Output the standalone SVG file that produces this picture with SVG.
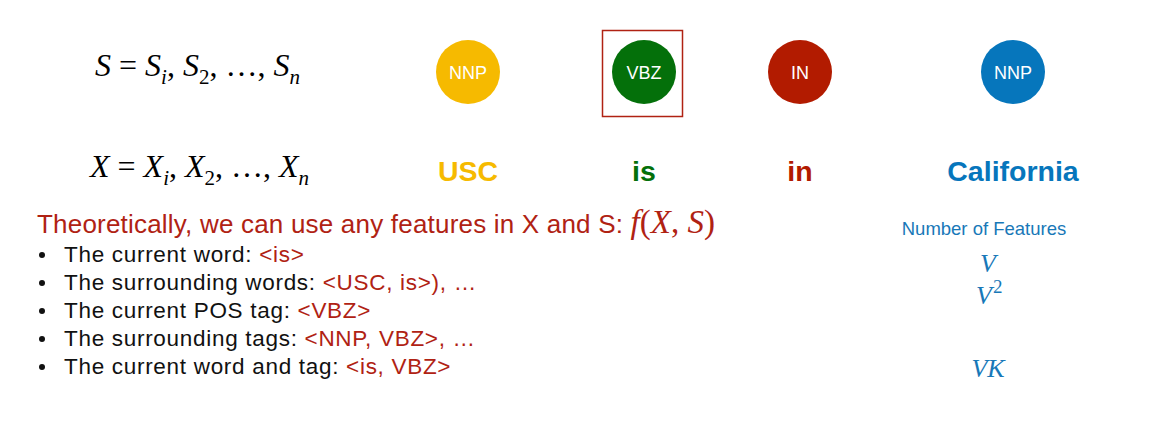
<svg xmlns="http://www.w3.org/2000/svg" width="1168" height="448" viewBox="0 0 1168 448">
<style>
.eq{font-family:"Liberation Serif",serif;font-size:32px;fill:#000}
.it{font-style:italic}
.tag{font-family:"Liberation Sans",Arial,sans-serif;font-size:18px;fill:#fff;text-anchor:middle}
.word{font-family:"Liberation Sans",Arial,sans-serif;font-size:28.5px;font-weight:bold;text-anchor:middle}
.body{font-family:"Liberation Sans",Arial,sans-serif;font-size:22.5px;letter-spacing:0.7px;fill:#111}
.title{font-family:"Liberation Sans",Arial,sans-serif;font-size:26px;letter-spacing:0.2px;fill:#B02213}
.red{fill:#B02213}
.blue{fill:#1878B8}
.math{font-family:"Liberation Serif",serif;font-style:italic;letter-spacing:0}
.mr{font-family:"Liberation Serif",serif;letter-spacing:0}
</style>
<rect width="1168" height="448" fill="#fff"/>
<g id="eq-s">
<text class="eq" x="95" y="76"><tspan class="it">S</tspan> = <tspan class="it">S</tspan><tspan class="it" font-size="21" dy="8">i</tspan><tspan dy="-8">, </tspan><tspan class="it">S</tspan><tspan font-size="21" dy="8">2</tspan><tspan dy="-8">, …, </tspan><tspan class="it">S</tspan><tspan class="it" font-size="21" dy="8">n</tspan></text>
</g>
<g id="eq-x">
<text class="eq" x="90" y="177"><tspan class="it">X</tspan> = <tspan class="it">X</tspan><tspan class="it" font-size="21" dy="8">i</tspan><tspan dy="-8">, </tspan><tspan class="it">X</tspan><tspan font-size="21" dy="8">2</tspan><tspan dy="-8">, …, </tspan><tspan class="it">X</tspan><tspan class="it" font-size="21" dy="8">n</tspan></text>
</g>
<g id="node-nnp1">
<circle cx="468" cy="72" r="32" fill="#F6BA00"/>
<text class="tag" x="468" y="79">NNP</text>
<text class="word" x="468" y="181" fill="#F6BA00">USC</text>
</g>
<g id="node-vbz">
<rect x="602.5" y="30.5" width="80" height="86" fill="none" stroke="#B02213" stroke-width="1.5"/>
<circle cx="644" cy="72" r="32" fill="#04700A"/>
<text class="tag" x="644" y="79">VBZ</text>
<text class="word" x="644" y="181" fill="#04700A">is</text>
</g>
<g id="node-in">
<circle cx="800" cy="72" r="32" fill="#B21B00"/>
<text class="tag" x="800" y="79">IN</text>
<text class="word" x="800" y="181" fill="#B21B00">in</text>
</g>
<g id="node-nnp2">
<circle cx="1013" cy="72" r="32" fill="#0676BC"/>
<text class="tag" x="1013" y="79">NNP</text>
<text class="word" x="1013" y="181" fill="#0676BC">California</text>
</g>
<g id="features">
<text class="title" x="37" y="233">Theoretically, we can use any features in X and S: <tspan class="math" font-size="33">f</tspan><tspan class="mr" font-size="33">(</tspan><tspan class="math" font-size="33">X</tspan><tspan class="mr" font-size="33">, </tspan><tspan class="math" font-size="33">S</tspan><tspan class="mr" font-size="33">)</tspan></text>
<g fill="#111">
<circle cx="42" cy="255" r="3"/>
<circle cx="42" cy="283" r="3"/>
<circle cx="42" cy="311" r="3"/>
<circle cx="42" cy="339" r="3"/>
<circle cx="42" cy="367" r="3"/>
</g>
<text class="body" x="64" y="262">The current word: <tspan class="red">&lt;is&gt;</tspan></text>
<text class="body" x="64" y="290">The surrounding words: <tspan class="red">&lt;USC, is&gt;), …</tspan></text>
<text class="body" x="64" y="318">The current POS tag: <tspan class="red">&lt;VBZ&gt;</tspan></text>
<text class="body" x="64" y="346">The surrounding tags: <tspan class="red">&lt;NNP, VBZ&gt;, …</tspan></text>
<text class="body" x="64" y="374">The current word and tag: <tspan class="red">&lt;is, VBZ&gt;</tspan></text>
</g>
<g id="counts" class="blue">
<text x="984" y="235" font-family="Liberation Sans,Arial,sans-serif" font-size="18.5" text-anchor="middle" class="blue">Number of Features</text>
<text x="988" y="272" class="math blue" font-size="26" text-anchor="middle">V</text>
<text x="976" y="304" class="math blue" font-size="26">V<tspan font-style="normal" font-size="19" dx="1" dy="-11">2</tspan></text>
<text x="988" y="377" class="math blue" font-size="26" text-anchor="middle">VK</text>
</g>
</svg>
